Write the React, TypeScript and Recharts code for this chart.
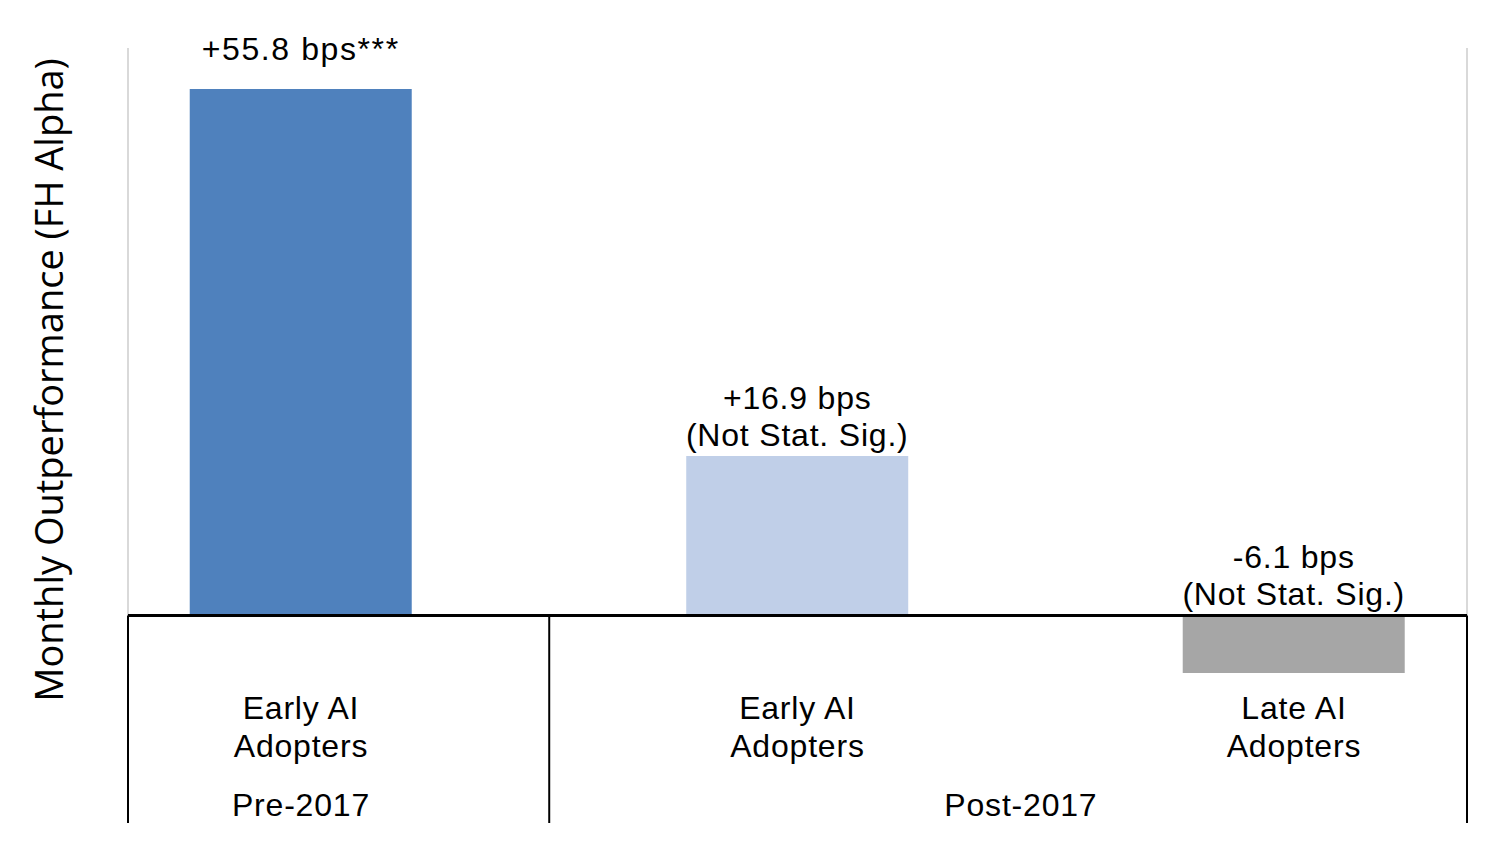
import React from 'react';
import { BarChart, Bar, XAxis, YAxis, ReferenceLine, Cell, LabelList, Customized } from 'recharts';

// ---- data ----
const categories: string[][] = [
  ['Early AI', 'Adopters'],
  ['Early AI', 'Adopters'],
  ['Late AI', 'Adopters'],
];
const values: number[] = [55.8, 16.9, -6.1];
const valueLabels: string[][] = [
  ['+55.8 bps***'],
  ['+16.9 bps', '(Not Stat. Sig.)'],
  ['-6.1 bps', '(Not Stat. Sig.)'],
];
const barColors: string[] = ['#4F81BD', '#C0CFE8', '#A6A6A6'];
const groupLabels: string[] = ['Pre-2017', 'Post-2017'];
const groupCenters: number[] = [0, 1.45];
const xDomain: [number, number] = [-0.3484, 2.3485];
const yDomain: [number, number] = [-22, 60.15];
const groupDividers: number[] = [xDomain[0], 0.5, xDomain[1]];
const yTitle = 'Monthly Outperformance (FH Alpha)';

const data = values.map((v, i) => ({ x: i, value: v }));

const FONT = '"Liberation Sans", Arial, sans-serif';
const FS = 32;
const LS = 0.8;

const CatTick = (props: any) => {
  const { x, y, payload } = props;
  const lines = categories[Math.round(payload.value)] || [];
  return (
    <g>
      {lines.map((l, k) => (
        <text
          key={k}
          x={x}
          y={y - 104 + k * 38}
          textAnchor="middle"
          fontFamily={FONT}
          fontSize={FS}
          letterSpacing={LS}
          fill="#000"
        >
          {l}
        </text>
      ))}
    </g>
  );
};

const ValueLabel = (props: any) => {
  const { x, y, width, height, index } = props;
  const lines = valueLabels[index] || [];
  const top = Math.min(y, y + height);
  const cx = x + width / 2;
  const lastBaseline = lines.length > 1 ? top - 10 : top - 29;
  return (
    <g>
      {lines.map((l, k) => (
        <text
          key={k}
          x={cx}
          y={lastBaseline - (lines.length - 1 - k) * 37}
          textAnchor="middle"
          fontFamily={FONT}
          fontSize={FS}
          letterSpacing={k === 0 && lines.length === 1 ? 1.6 : LS}
          fill="#000"
        >
          {l}
        </text>
      ))}
    </g>
  );
};

const GroupLabel = (props: any) => {
  const { viewBox, text } = props;
  if (!viewBox) return null;
  const bottom = viewBox.y + viewBox.height;
  return (
    <text
      x={viewBox.x}
      y={bottom - 7}
      textAnchor="middle"
      fontFamily={FONT}
      fontSize={FS}
      letterSpacing={LS}
      fill="#000"
    >
      {text}
    </text>
  );
};

export default function App() {
  return (
    <div style={{ position: 'absolute', left: 0, top: 0, width: 1495, height: 865, background: '#fff' }}>
      <BarChart
        width={1495}
        height={865}
        data={data}
        margin={{ top: 48, right: 28, left: 128, bottom: 0 }}
      >
        <XAxis
          dataKey="x"
          type="number"
          domain={xDomain}
          ticks={[0, 1, 2]}
          allowDataOverflow
          height={42}
          axisLine={false}
          tickLine={false}
          tickSize={0}
          tickMargin={0}
          interval={0}
          tick={<CatTick />}
        />
        <YAxis hide domain={yDomain} allowDataOverflow type="number" />
        <Bar dataKey="value" barSize={222} isAnimationActive={false}>
          {data.map((d, i) => (
            <Cell key={i} fill={barColors[i]} />
          ))}
          <LabelList dataKey="value" content={<ValueLabel />} />
        </Bar>
        <ReferenceLine
          segment={[{ x: xDomain[0], y: 0 }, { x: xDomain[0], y: yDomain[1] }]}
          stroke="#D9D9D9"
          strokeWidth={2}
        />
        <ReferenceLine
          segment={[{ x: xDomain[1], y: 0 }, { x: xDomain[1], y: yDomain[1] }]}
          stroke="#D9D9D9"
          strokeWidth={2}
        />
        {groupDividers.map((d, i) => (
          <ReferenceLine
            key={'div' + i}
            segment={[{ x: d, y: yDomain[0] }, { x: d, y: 0 }]}
            stroke="#000"
            strokeWidth={2}
          />
        ))}
        {groupLabels.map((g, i) => (
          <ReferenceLine
            key={'grp' + i}
            segment={[{ x: groupCenters[i], y: yDomain[0] }, { x: groupCenters[i], y: 0 }]}
            stroke="none"
            label={<GroupLabel text={g} />}
          />
        ))}
        <ReferenceLine y={0} stroke="#000" strokeWidth={3} />
        <Customized
          component={() => (
            <text
              transform="translate(63,380) rotate(-90)"
              textAnchor="middle"
              fontFamily='"Open Sans", sans-serif'
              fontSize={38}
              fill="#000"
            >
              {yTitle}
            </text>
          )}
        />
      </BarChart>
    </div>
  );
}
